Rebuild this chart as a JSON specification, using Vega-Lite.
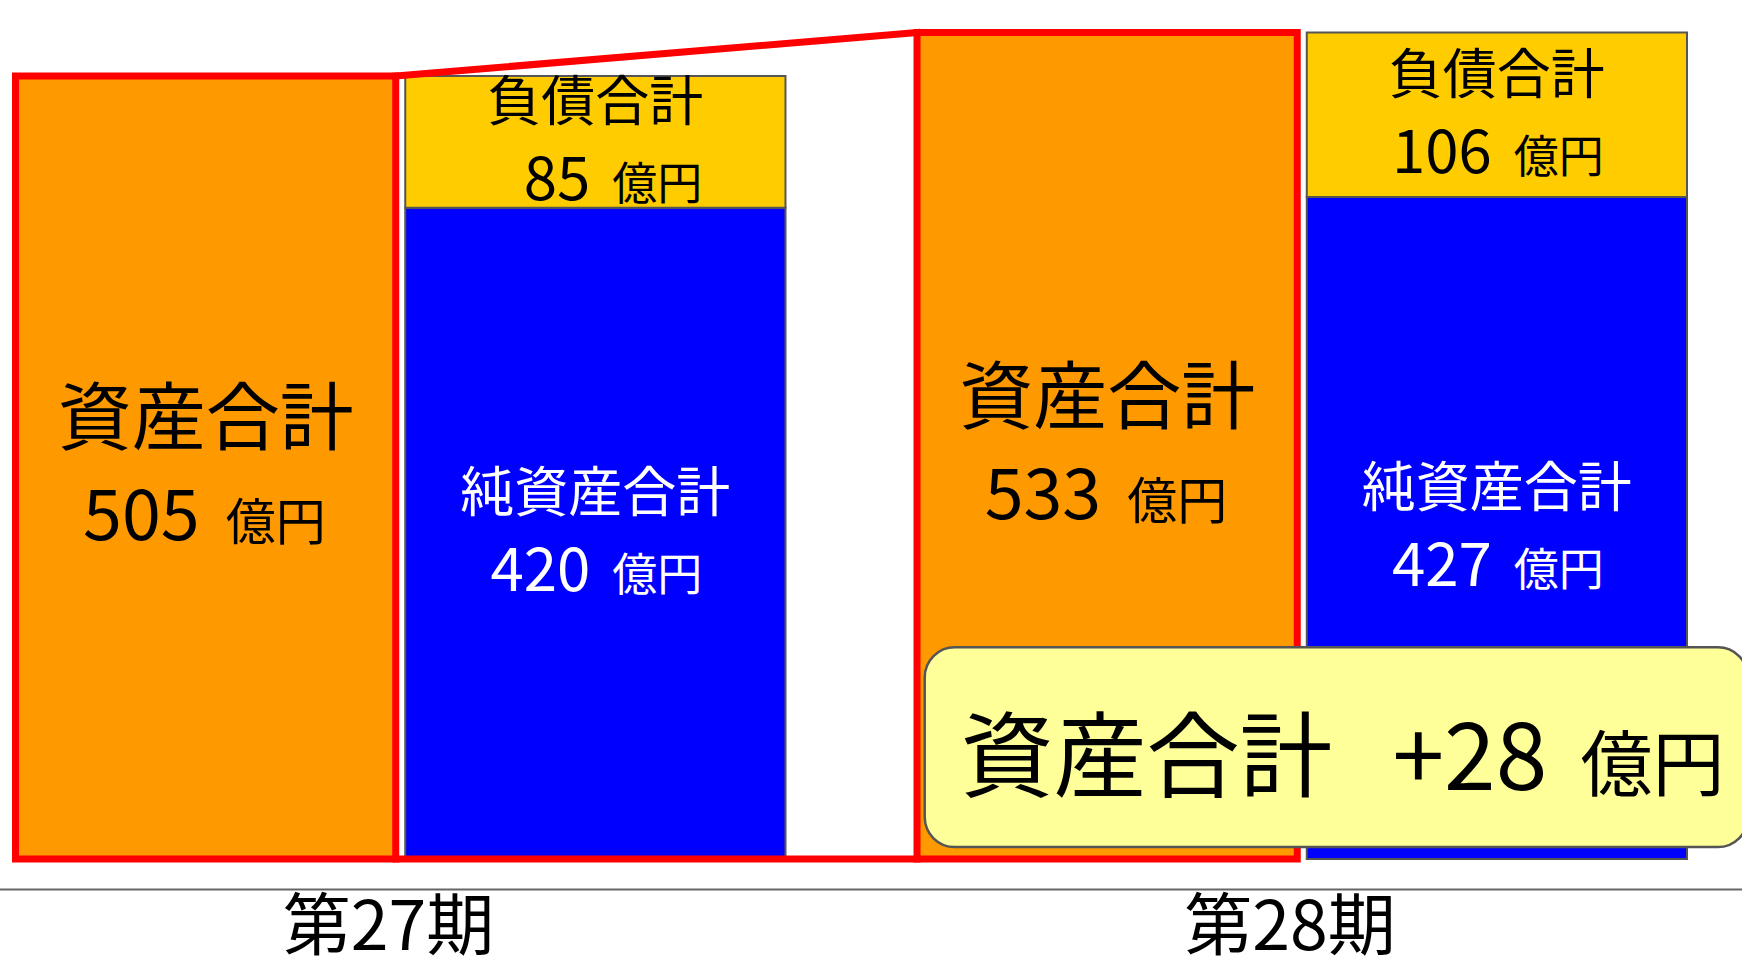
{
  "$schema": "https://vega.github.io/schema/vega-lite/v6.json",
  "width": 1742,
  "height": 859,
  "autosize": {"type": "none"},
  "padding": {"left": 0, "top": 0, "right": 0, "bottom": 110},
  "background": "white",
  "datasets": {
    "bs": [
      {"period": "第27期", "side": "資産", "seg": "資産合計", "value": 505},
      {"period": "第27期", "side": "負債・純資産", "seg": "純資産合計", "value": 420},
      {"period": "第27期", "side": "負債・純資産", "seg": "負債合計", "value": 85},
      {"period": "第28期", "side": "資産", "seg": "資産合計", "value": 533},
      {"period": "第28期", "side": "負債・純資産", "seg": "純資産合計", "value": 427},
      {"period": "第28期", "side": "負債・純資産", "seg": "負債合計", "value": 106}
    ],
    "link": [
      {"from": "第27期", "to": "第28期", "a": 505, "b": 533},
      {"from": "第27期", "to": "第28期", "a": 0, "b": 0}
    ],
    "note": [
      {"period": "第28期", "label": "資産合計", "change": "+28", "unit": "億円"}
    ]
  },
  "layer": [
    {
      "data": {"name": "bs"},
      "transform": [
        {"stack": "value", "groupby": ["period", "side"], "sort": [{"field": "seg", "order": "ascending"}], "as": ["v0", "v1"]}
      ],
      "mark": {"type": "bar"},
      "encoding": {
        "x": {
          "field": "period", "type": "nominal", "title": null,
          "scale": {"domain": ["第27期", "第28期"], "range": [-39.5, 1742], "paddingInner": 0.1459, "paddingOuter": 0.061}
        },
        "xOffset": {
          "field": "side", "type": "nominal",
          "scale": {"domain": ["資産", "負債・純資産"], "paddingInner": 0.0244, "paddingOuter": 0}
        },
        "y": {"field": "v1", "type": "quantitative", "axis": null, "scale": {"domain": [0, 554], "nice": false}},
        "y2": {"field": "v0"},
        "color": {
          "field": "seg", "type": "nominal", "legend": null,
          "scale": {"domain": ["資産合計", "負債合計", "純資産合計"], "range": ["#FF9900", "#FFCC00", "#0000FF"]}
        },
        "stroke": {"condition": {"test": "datum.side === '資産'", "value": "#FF0000"}, "value": "#555555"},
        "strokeWidth": {"condition": {"test": "datum.side === '資産'", "value": 7}, "value": 2}
      }
    },
    {
      "data": {"name": "link"},
      "mark": {"type": "rule", "color": "#FF0000", "strokeWidth": 7, "strokeCap": "square"},
      "encoding": {
        "x": {"field": "from", "type": "nominal", "bandPosition": 0.494, "title": null},
        "x2": {"field": "to", "bandPosition": 0},
        "y": {"field": "a", "type": "quantitative", "axis": null},
        "y2": {"field": "b"}
      }
    },
    {
      "data": {"name": "bs"},
      "transform": [
        {"stack": "value", "groupby": ["period", "side"], "sort": [{"field": "seg", "order": "ascending"}], "as": ["v0", "v1"]},
        {"fold": ["v0", "v1"], "as": ["k", "v"]},
        {"aggregate": [{"op": "mean", "field": "v", "as": "mid"}], "groupby": ["period", "side", "seg", "value"]}
      ],
      "layer": [
        {
          "transform": [{"filter": "datum.side === '資産'"}],
          "mark": {"type": "text", "font": "Noto Sans CJK JP", "fontSize": 74, "baseline": "middle", "dy": -45, "color": "#000000"},
          "encoding": {
            "x": {"field": "period", "type": "nominal", "bandPosition": 0.247, "title": null},
            "y": {"field": "mid", "type": "quantitative", "axis": null},
            "text": {"field": "seg"}
          }
        },
        {
          "transform": [{"filter": "datum.side === '資産'"}],
          "mark": {"type": "text", "font": "Noto Sans CJK JP", "fontSize": 70, "align": "right", "baseline": "alphabetic", "dx": -6, "dy": 73, "color": "#000000"},
          "encoding": {
            "x": {"field": "period", "type": "nominal", "bandPosition": 0.247, "title": null},
            "y": {"field": "mid", "type": "quantitative", "axis": null},
            "text": {"field": "value", "type": "quantitative"}
          }
        },
        {
          "transform": [{"filter": "datum.side === '資産'"}],
          "mark": {"type": "text", "font": "Noto Sans CJK JP", "fontSize": 50, "align": "left", "baseline": "alphabetic", "dx": 20, "dy": 73, "color": "#000000"},
          "encoding": {
            "x": {"field": "period", "type": "nominal", "bandPosition": 0.247, "title": null},
            "y": {"field": "mid", "type": "quantitative", "axis": null},
            "text": {"value": "億円"}
          }
        },
        {
          "transform": [{"filter": "datum.side !== '資産'"}],
          "mark": {"type": "text", "font": "Noto Sans CJK JP", "fontSize": 54, "baseline": "middle", "dy": -37},
          "encoding": {
            "x": {"field": "period", "type": "nominal", "bandPosition": 0.753, "title": null},
            "y": {"field": "mid", "type": "quantitative", "axis": null},
            "text": {"field": "seg"},
            "color": {"condition": {"test": "datum.seg === '純資産合計'", "value": "#FFFFFF"}, "value": "#000000"}
          }
        },
        {
          "transform": [{"filter": "datum.side !== '資産'"}],
          "mark": {"type": "text", "font": "Noto Sans CJK JP", "fontSize": 60, "align": "right", "baseline": "alphabetic", "dx": -5, "dy": 58},
          "encoding": {
            "x": {"field": "period", "type": "nominal", "bandPosition": 0.753, "title": null},
            "y": {"field": "mid", "type": "quantitative", "axis": null},
            "text": {"field": "value", "type": "quantitative"},
            "color": {"condition": {"test": "datum.seg === '純資産合計'", "value": "#FFFFFF"}, "value": "#000000"}
          }
        },
        {
          "transform": [{"filter": "datum.side !== '資産'"}],
          "mark": {"type": "text", "font": "Noto Sans CJK JP", "fontSize": 45, "align": "left", "baseline": "alphabetic", "dx": 17, "dy": 58},
          "encoding": {
            "x": {"field": "period", "type": "nominal", "bandPosition": 0.753, "title": null},
            "y": {"field": "mid", "type": "quantitative", "axis": null},
            "text": {"value": "億円"},
            "color": {"condition": {"test": "datum.seg === '純資産合計'", "value": "#FFFFFF"}, "value": "#000000"}
          }
        }
      ]
    },
    {
      "data": {"name": "note"},
      "layer": [
        {
          "mark": {"type": "rect", "fill": "#FFFF99", "stroke": "#555555", "strokeWidth": 2.5, "cornerRadius": 30},
          "encoding": {
            "x": {"field": "period", "type": "nominal", "bandPosition": 0.01, "title": null},
            "x2": {"field": "period", "bandPosition": 1.079},
            "y": {"datum": 136.5, "type": "quantitative", "axis": null},
            "y2": {"datum": 7.7}
          }
        },
        {
          "mark": {"type": "text", "font": "Noto Sans CJK JP", "fontSize": 93, "align": "left", "baseline": "alphabetic", "color": "#000000"},
          "encoding": {
            "x": {"field": "period", "type": "nominal", "bandPosition": 0.0565, "title": null},
            "y": {"datum": 44.5, "type": "quantitative", "axis": null},
            "text": {"field": "label"}
          }
        },
        {
          "mark": {"type": "text", "font": "Noto Sans CJK JP", "fontSize": 93, "align": "left", "baseline": "alphabetic", "color": "#000000"},
          "encoding": {
            "x": {"field": "period", "type": "nominal", "bandPosition": 0.6175, "title": null},
            "y": {"datum": 44.5, "type": "quantitative", "axis": null},
            "text": {"field": "change"}
          }
        },
        {
          "mark": {"type": "text", "font": "Noto Sans CJK JP", "fontSize": 72, "align": "left", "baseline": "alphabetic", "color": "#000000"},
          "encoding": {
            "x": {"field": "period", "type": "nominal", "bandPosition": 0.8617, "title": null},
            "y": {"datum": 44.5, "type": "quantitative", "axis": null},
            "text": {"field": "unit"}
          }
        }
      ]
    }
  ],
  "config": {
    "view": {"stroke": null},
    "axisX": {
      "offset": 30,
      "domainColor": "#666666",
      "domainWidth": 2,
      "ticks": false,
      "grid": false,
      "labelAngle": 0,
      "labelFont": "Noto Sans CJK JP",
      "labelFontSize": 68,
      "labelColor": "#000000",
      "labelPadding": 6,
      "labelOffset": -12,
      "labelLimit": 600
    }
  }
}
